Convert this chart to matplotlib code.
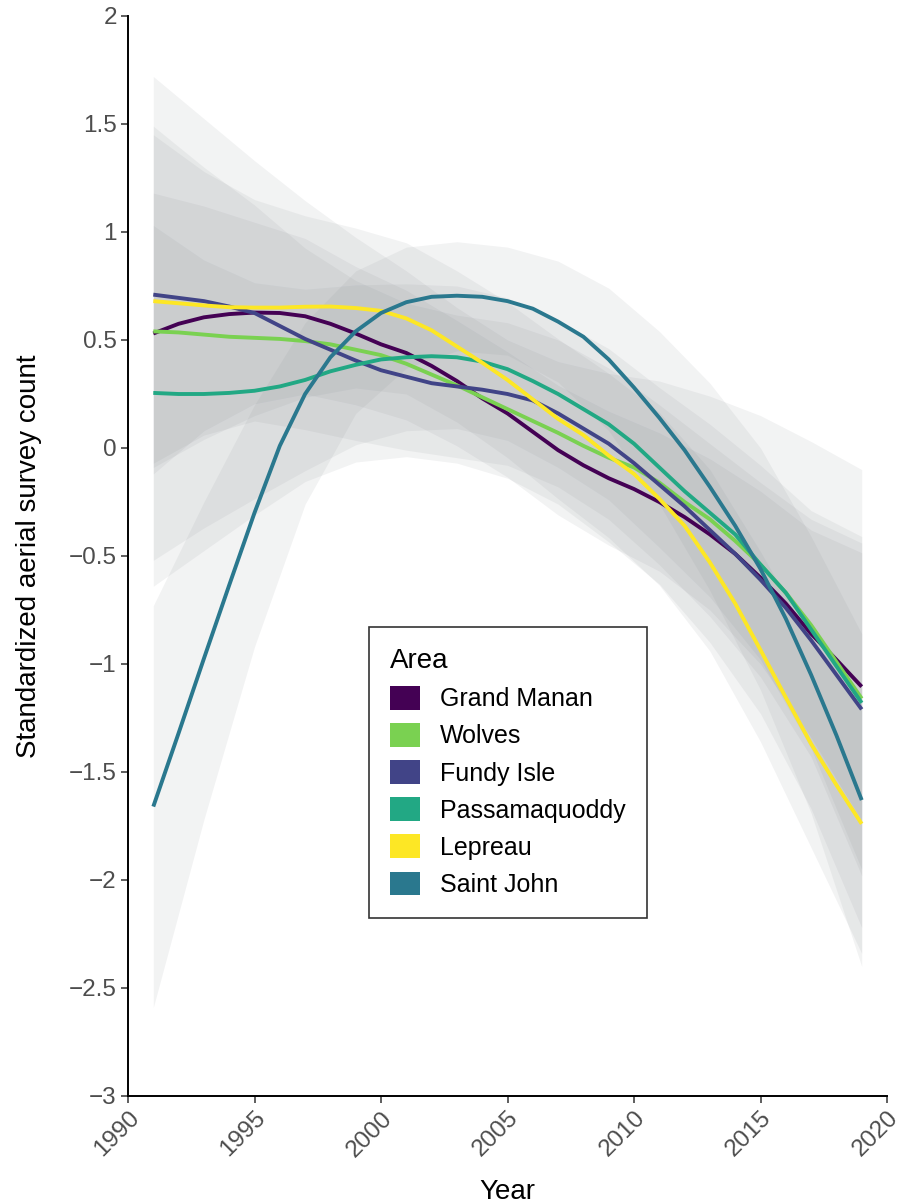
import matplotlib
matplotlib.use("Agg")
import matplotlib.pyplot as plt
from matplotlib.patches import Patch
from matplotlib.ticker import FuncFormatter

plt.rcParams['font.family'] = ['Liberation Sans', 'DejaVu Sans']

# fitted trend per area (one value per year)
years = list(range(1991, 2020))
grand_manan = [0.53, 0.575, 0.605, 0.62, 0.627, 0.625, 0.61, 0.575, 0.53, 0.48,
               0.44, 0.38, 0.31, 0.23, 0.16, 0.075, -0.01, -0.08, -0.14, -0.19,
               -0.25, -0.32, -0.40, -0.49, -0.60, -0.72, -0.86, -0.98, -1.105]
wolves = [0.54, 0.535, 0.525, 0.515, 0.51, 0.505, 0.495, 0.48, 0.455, 0.43,
          0.39, 0.34, 0.29, 0.235, 0.18, 0.125, 0.07, 0.01, -0.045, -0.09,
          -0.16, -0.25, -0.33, -0.43, -0.54, -0.67, -0.82, -0.99, -1.16]
fundy_isle = [0.71, 0.695, 0.68, 0.655, 0.625, 0.565, 0.505, 0.455, 0.405, 0.36,
              0.33, 0.30, 0.285, 0.27, 0.25, 0.22, 0.16, 0.09, 0.02, -0.07,
              -0.17, -0.27, -0.38, -0.49, -0.61, -0.74, -0.89, -1.05, -1.21]
passamaquoddy = [0.255, 0.25, 0.25, 0.255, 0.265, 0.285, 0.315, 0.355, 0.385, 0.41,
                 0.42, 0.425, 0.42, 0.40, 0.365, 0.31, 0.25, 0.18, 0.11, 0.02,
                 -0.09, -0.20, -0.30, -0.40, -0.54, -0.67, -0.84, -1.01, -1.18]
lepreau = [0.68, 0.67, 0.66, 0.652, 0.65, 0.65, 0.654, 0.655, 0.648, 0.635,
           0.60, 0.545, 0.47, 0.395, 0.315, 0.225, 0.135, 0.06, -0.035, -0.12,
           -0.235, -0.36, -0.53, -0.72, -0.935, -1.155, -1.37, -1.56, -1.74]
saint_john = [-1.66, -1.32, -0.975, -0.635, -0.30, 0.01, 0.25, 0.42, 0.54, 0.625,
              0.675, 0.70, 0.705, 0.70, 0.68, 0.645, 0.585, 0.515, 0.41, 0.28,
              0.14, -0.01, -0.18, -0.36, -0.56, -0.79, -1.05, -1.33, -1.63]

# confidence bands (every second year)
band_years = list(range(1991, 2020, 2))
gm_lo = [-0.12, 0.08, 0.205, 0.25, 0.20, 0.13, 0.01, -0.135, -0.31, -0.45, -0.57, -0.75, -1.00, -1.34, -1.725]
gm_hi = [1.18, 1.12, 1.045, 0.97, 0.84, 0.73, 0.59, 0.445, 0.29, 0.17, 0.07, -0.05, -0.20, -0.38, -0.485]
wo_lo = [-0.64, -0.475, -0.31, -0.155, -0.065, -0.04, -0.07, -0.14, -0.26, -0.435, -0.63, -0.90, -1.23, -1.67, -2.22]
wo_hi = [1.72, 1.525, 1.33, 1.145, 0.975, 0.82, 0.65, 0.50, 0.40, 0.345, 0.31, 0.24, 0.15, 0.03, -0.10]
fi_lo = [-0.07, 0.06, 0.125, 0.085, 0.035, -0.01, -0.045, -0.08, -0.18, -0.33, -0.54, -0.78, -1.06, -1.43, -1.98]
fi_hi = [1.49, 1.30, 1.125, 0.925, 0.775, 0.67, 0.615, 0.58, 0.50, 0.37, 0.20, 0.02, -0.16, -0.33, -0.44]
pa_lo = [-0.52, -0.37, -0.235, -0.105, 0.015, 0.08, 0.09, 0.035, -0.09, -0.24, -0.46, -0.69, -0.98, -1.39, -1.95]
pa_hi = [1.03, 0.87, 0.765, 0.735, 0.755, 0.76, 0.75, 0.695, 0.59, 0.46, 0.28, 0.11, -0.08, -0.29, -0.41]
le_lo = [-0.09, 0.04, 0.15, 0.235, 0.278, 0.25, 0.12, -0.045, -0.235, -0.415, -0.635, -0.94, -1.36, -1.85, -2.34]
le_hi = [1.45, 1.28, 1.15, 1.075, 1.018, 0.95, 0.82, 0.675, 0.505, 0.345, 0.165, -0.10, -0.48, -0.89, -1.14]
sj_lo = [-2.59, -1.72, -0.92, -0.26, 0.16, 0.37, 0.45, 0.43, 0.305, 0.08, -0.26, -0.66, -1.12, -1.69, -2.40]
sj_hi = [-0.73, -0.25, 0.20, 0.58, 0.82, 0.93, 0.955, 0.93, 0.865, 0.74, 0.54, 0.30, 0.00, -0.41, -0.86]

areas = ['Grand Manan', 'Wolves', 'Fundy Isle', 'Passamaquoddy', 'Lepreau', 'Saint John']
colors = ['#440154', '#7AD151', '#414487', '#22A884', '#FDE725', '#2A788E']
lines = [grand_manan, wolves, fundy_isle, passamaquoddy, lepreau, saint_john]
bands = [(gm_lo, gm_hi), (wo_lo, wo_hi), (fi_lo, fi_hi),
         (pa_lo, pa_hi), (le_lo, le_hi), (sj_lo, sj_hi)]

fig = plt.figure(figsize=(9.03, 12.03), dpi=100)
ax = fig.add_axes([128 / 903, 1 - 1096 / 1203, 759 / 903, 1080 / 1203])

for lo, hi in bands:
    ax.fill_between(band_years, lo, hi, color='#858a90', alpha=0.10, linewidth=0)

for vals, c in zip(lines, colors):
    ax.plot(years, vals, color=c, lw=2.8, solid_capstyle='butt')

ax.set_xlim(1990, 2020)
ax.set_ylim(-3, 2)
ax.set_xticks(range(1990, 2021, 5))
ax.set_yticks([-3 + 0.5 * i for i in range(11)])
ax.yaxis.set_major_formatter(FuncFormatter(lambda v, p: f'{v:g}'.replace('-', '\u2212')))

for s in ['top', 'right']:
    ax.spines[s].set_visible(False)
for s in ['left', 'bottom']:
    ax.spines[s].set_linewidth(1.4)
    ax.spines[s].set_color('black')

ax.tick_params(axis='both', length=5, width=1.1, color='#333333',
               labelcolor='#4d4d4d', labelsize=17.5, pad=3)
for lab in ax.get_xticklabels():
    lab.set_rotation(45)
    lab.set_ha('right')
    lab.set_va('top')
    lab.set_rotation_mode('anchor')

ax.set_ylabel('Standardized aerial survey count', fontsize=20, color='black', labelpad=19)
fig.text(507 / 903, 1 - 1192 / 1203, 'Year', fontsize=20, ha='center', va='center')

handles = [Patch(facecolor=c, edgecolor='none') for c in colors]
leg = ax.legend(handles, areas, title='Area', loc='upper left',
                bbox_to_anchor=(369 / 903, 1 - 627 / 1203), bbox_transform=fig.transFigure,
                fontsize=18, title_fontsize=20, alignment='left',
                frameon=True, fancybox=False, edgecolor='#333333', framealpha=1,
                handlelength=1.2, handleheight=1.08, handletextpad=0.8,
                labelspacing=0.47, borderpad=0.85, borderaxespad=0)
leg.get_frame().set_linewidth(1.2)

fig.savefig('out.png', dpi=100)
